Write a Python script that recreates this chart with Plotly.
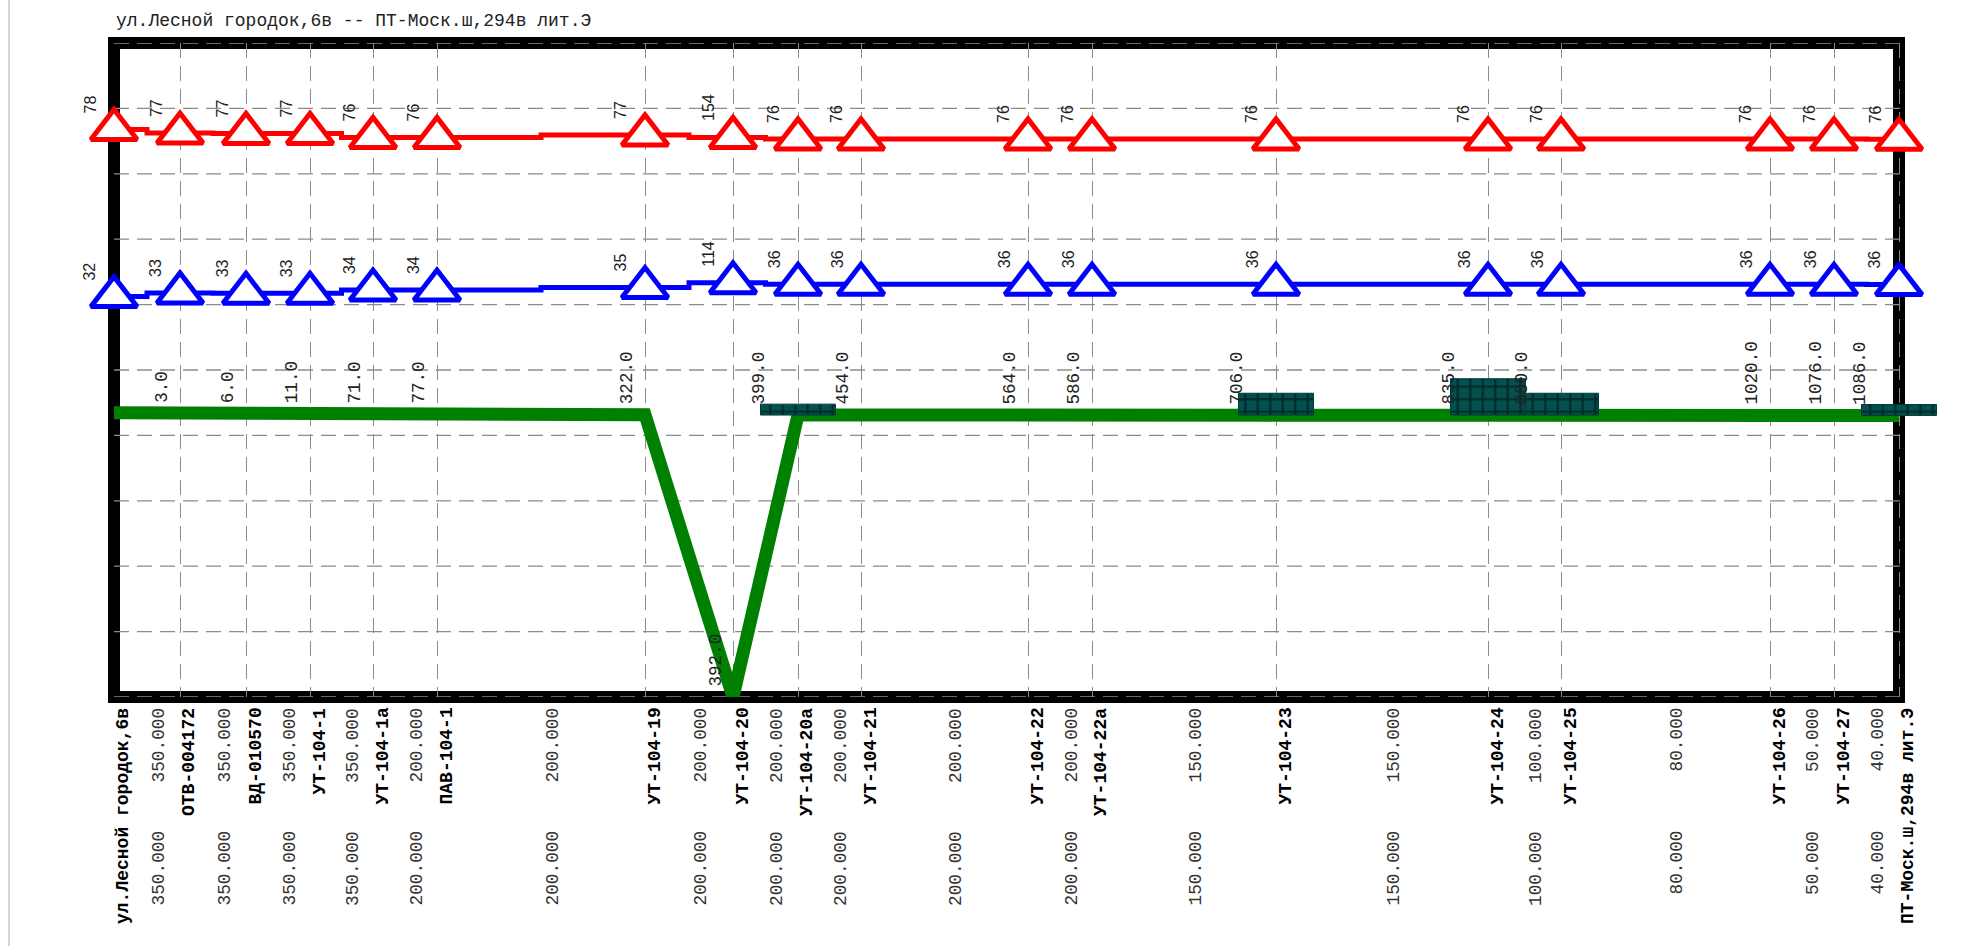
import plotly.graph_objects as go

# ---------------------------------------------------------------- data
title_text = "ул.Лесной городок,6в -- ПТ-Моск.ш,294в лит.Э"

node_names = [
    "ул.Лесной городок,6в", "ОТВ-004172", "ВД-010570", "УТ-104-1", "УТ-104-1а",
    "ПАВ-104-1", "УТ-104-19", "УТ-104-20", "УТ-104-20а", "УТ-104-21",
    "УТ-104-22", "УТ-104-22а", "УТ-104-23", "УТ-104-24", "УТ-104-25",
    "УТ-104-26", "УТ-104-27", "ПТ-Моск.ш,294в лит.Э",
]
# schematic station of every node along the route
node_pos = [0, 66, 132, 196, 259, 323, 531, 619, 684, 747,
            914, 978, 1162, 1374, 1447, 1656, 1720, 1785]
# ground / pipe elevation, m
elevation = [78.2, 78.2, 78.1, 78.1, 78.0, 78.0, 77.7, 0.0, 77.6, 77.6,
             77.6, 77.6, 77.6, 77.6, 77.6, 77.6, 77.6, 77.5]
# pressure in supply / return pipes, m
supply_pressure = [78, 77, 77, 77, 76, 76, 77, 154, 76, 76,
                   76, 76, 76, 76, 76, 76, 76, 76]
return_pressure = [32, 33, 33, 33, 34, 34, 35, 114, 36, 36,
                   36, 36, 36, 36, 36, 36, 36, 36]
# cumulative length at each node, m (start node is unlabeled)
chainage = [None, 3.0, 6.0, 11.0, 71.0, 77.0, 322.0, 392.0, 399.0, 454.0,
            564.0, 586.0, 706.0, 835.0, 880.0, 1020.0, 1076.0, 1086.0]
# pipe diameters of each segment, mm
supply_diam = [350, 350, 350, 350, 200, 200, 200, 200, 200, 200, 200,
               150, 150, 100, 80, 50, 40]
return_diam = [350, 350, 350, 350, 200, 200, 200, 200, 200, 200, 200,
               150, 150, 100, 80, 50, 40]
# chamber blocks drawn on the profile
block_nodes = [8, 12, 13, 14, 17]
block_height = [3.0, 6.0, 10.0, 6.0, 3.0]
# elevation grid
y_grid = list(range(0, 181, 18))

# ---------------------------------------------------------------- derived
supply_head = [z + p for z, p in zip(elevation, supply_pressure)]
return_head = [z + p for z, p in zip(elevation, return_pressure)]
seg_mid = [(a + b) / 2 for a, b in zip(node_pos[:-1], node_pos[1:])]

W, H = 1966, 946
ML, MR, MT, MB = 114, 20, 43, 249
PW, PH = W - ML - MR, H - MT - MB
X_MAX = PW                      # one station unit per pixel
FRAME_R = node_pos[-1] / X_MAX  # right edge of the frame, paper units
BLOCK_W = 75

# block outlines as closed polygons (one trace, gaps between blocks)
block_x, block_y = [], []
for i, h in zip(block_nodes, block_height):
    x0, x1 = node_pos[i] - BLOCK_W / 2, node_pos[i] + BLOCK_W / 2
    b = elevation[i]
    block_x += [x0, x1, x1, x0, x0, None]
    block_y += [b, b, b + h, b + h, b, None]

MONO = "Liberation Mono, Courier New, monospace"
SANS = "Liberation Sans, Arial, sans-serif"
RED, BLUE, GREEN, TEAL = "#ff0000", "#0000ff", "#008000", "#03504d"
GRID = dict(color="#8c8c8c", width=1.3, dash="15px,8px")

fig = go.Figure()

fig.add_trace(go.Scatter(
    x=node_pos, y=elevation, mode="lines",
    line=dict(color=GREEN, width=13),
    cliponaxis=False, hoverinfo="skip", showlegend=False,
))
fig.add_trace(go.Scatter(
    x=block_x, y=block_y, mode="lines", fill="toself",
    line=dict(color="#023a38", width=1),
    fillcolor=TEAL,
    fillpattern=dict(shape="+", fgcolor="black", bgcolor=TEAL,
                     size=12.5, solidity=0.3),
    hoverinfo="skip", showlegend=False,
))
for head, color in ((supply_head, RED), (return_head, BLUE)):
    fig.add_trace(go.Scatter(
        x=node_pos, y=head, mode="lines+markers",
        line=dict(color=color, width=5, shape="hvh"),
        marker=dict(symbol="triangle-up", size=40, color="white",
                    line=dict(color=color, width=5)),
        cliponaxis=False, hoverinfo="skip", showlegend=False,
    ))

ann = []
# pressure labels above the triangles
for head, pres in ((supply_head, supply_pressure), (return_head, return_pressure)):
    for x, y, p in zip(node_pos, head, pres):
        ann.append(dict(x=x, y=y, xref="x", yref="y", text=str(p),
                        textangle=-90, xanchor="center", yanchor="bottom",
                        xshift=-24, yshift=14, showarrow=False,
                        font=dict(family=SANS, size=16, color="#222")))
# chainage along the profile
for i, (x, z, c) in enumerate(zip(node_pos, elevation, chainage)):
    if c is None:
        continue
    dx = -39 if i in block_nodes else -18
    ann.append(dict(x=x, y=z, xref="x", yref="y", text=f"{c:.1f}",
                    textangle=-90, xanchor="center", yanchor="bottom",
                    xshift=dx, yshift=8, showarrow=False,
                    font=dict(family=MONO, size=17.6, color="#222")))
# node names under the frame
for x, name in zip(node_pos, node_names):
    ann.append(dict(x=x, y=0, xref="x", yref="paper", text=name,
                    textangle=-90, xanchor="center", yanchor="top",
                    xshift=9, yshift=-9, showarrow=False,
                    font=dict(family=MONO, size=18, color="black", weight="bold")))
# diameters, supply row and return row
for row_shift, diams in ((-9, supply_diam), (-132, return_diam)):
    for x, d in zip(seg_mid, diams):
        ann.append(dict(x=x, y=0, xref="x", yref="paper", text=f"{d:.3f}",
                        textangle=-90, xanchor="center", yanchor="top",
                        xshift=11, yshift=row_shift, showarrow=False,
                        font=dict(family=MONO, size=17.8, color="#333")))
# title
ann.append(dict(x=0, y=1, xref="paper", yref="paper", text=title_text,
                xanchor="left", yanchor="middle", yshift=22, showarrow=False,
                font=dict(family=MONO, size=18, color="#222")))

shapes = [
    # heavy frame around the profile
    dict(type="rect", xref="paper", yref="paper", x0=0, x1=FRAME_R, y0=0, y1=1,
         line=dict(color="black", width=12), fillcolor="rgba(0,0,0,0)",
         layer="below"),
    # thin page rule on the left
    dict(type="line", xref="paper", yref="paper",
         x0=(9 - ML) / PW, x1=(9 - ML) / PW,
         y0=-MB / PH, y1=1 + MT / PH,
         line=dict(color="#c8c8c8", width=1.5), layer="below"),
]
# horizontal grid, limited to the framed width
for gy in y_grid:
    shapes.append(dict(type="line", xref="paper", yref="y",
                       x0=0, x1=FRAME_R + 8 / PW, y0=gy, y1=gy,
                       line=GRID, layer="below"))

fig.update_layout(
    width=W, height=H,
    margin=dict(l=ML, r=MR, t=MT, b=MB, pad=0),
    paper_bgcolor="white", plot_bgcolor="rgba(0,0,0,0)",
    xaxis=dict(range=[0, X_MAX], tickvals=node_pos, showgrid=True,
               gridcolor=GRID["color"], gridwidth=GRID["width"],
               griddash=GRID["dash"], showticklabels=False, ticks="",
               zeroline=False, showline=False),
    yaxis=dict(range=[0, 180], showgrid=False, showticklabels=False,
               ticks="", zeroline=False, showline=False),
    annotations=ann, shapes=shapes, showlegend=False,
)

fig.write_html("out.html")
